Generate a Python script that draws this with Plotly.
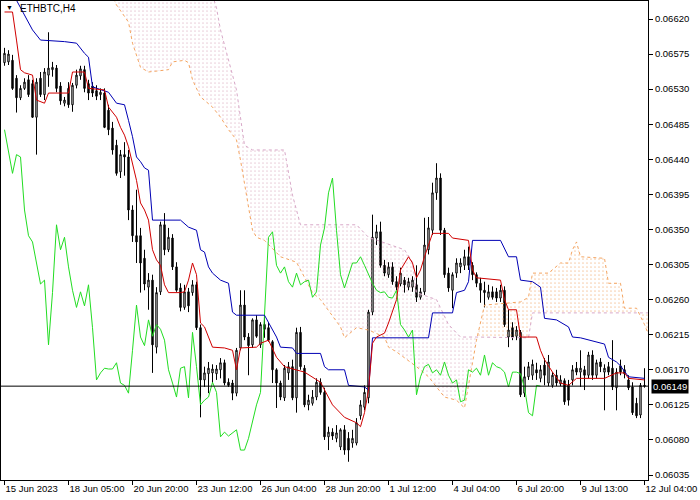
import plotly.graph_objects as go

# ---------------- data (prices in 1e-5 units, i.e. 6564 -> 0.06564) ----------------
open_pts = [6564, 6565, 6567, 6544, 6519, 6531, 6542, 6537, 6494, 6544,
            6523, 6548, 6555, 6557, 6534, 6512, 6531, 6510, 6535, 6547,
            6555, 6537, 6534, 6528, 6523, 6525, 6503, 6480, 6458, 6424,
            6446, 6443, 6375, 6342, 6342, 6313, 6276, 6285, 6199, 6270,
            6356, 6324, 6339, 6302, 6275, 6250, 6270, 6269, 6279, 6224,
            6157, 6165, 6166, 6165, 6170, 6179, 6154, 6153, 6140, 6198,
            6253, 6212, 6202, 6234, 6202, 6228, 6224, 6206, 6170, 6153,
            6134, 6166, 6174, 6134, 6218, 6172, 6125, 6127, 6135, 6154,
            6141, 6084, 6090, 6082, 6071, 6093, 6082, 6076, 6076, 6111,
            6122, 6134, 6244, 6339, 6347, 6304, 6292, 6302, 6283, 6280,
            6285, 6276, 6276, 6279, 6263, 6270, 6324, 6349, 6397, 6416,
            6349, 6294, 6272, 6294, 6302, 6304, 6315, 6304, 6292, 6281,
            6272, 6263, 6270, 6270, 6262, 6272, 6212, 6224, 6213, 6218,
            6140, 6161, 6163, 6170, 6159, 6176, 6153, 6150, 6163, 6152,
            6156, 6150, 6157, 6172, 6167, 6170, 6163, 6189, 6163, 6180,
            6167, 6174, 6172, 6147, 6175, 6170, 6157, 6148, 6127, 6112,
            6150]
high_pts = [6583, 6580, 6574, 6548, 6535, 6544, 6548, 6542, 6544, 6552,
            6557, 6603, 6565, 6561, 6539, 6520, 6539, 6538, 6555, 6560,
            6560, 6542, 6539, 6535, 6531, 6531, 6510, 6488, 6465, 6452,
            6462, 6452, 6381, 6401, 6352, 6324, 6294, 6292, 6276, 6360,
            6371, 6352, 6344, 6308, 6281, 6279, 6275, 6285, 6283, 6228,
            6174, 6180, 6177, 6176, 6185, 6183, 6159, 6157, 6198, 6272,
            6272, 6217, 6236, 6240, 6231, 6240, 6230, 6208, 6172, 6156,
            6176, 6180, 6183, 6224, 6225, 6176, 6138, 6144, 6159, 6159,
            6147, 6097, 6095, 6099, 6095, 6099, 6090, 6093, 6108, 6131,
            6150, 6247, 6369, 6356, 6360, 6311, 6308, 6308, 6290, 6301,
            6289, 6288, 6290, 6304, 6275, 6365, 6366, 6410, 6435, 6422,
            6352, 6301, 6295, 6313, 6313, 6324, 6328, 6308, 6295, 6288,
            6283, 6279, 6277, 6275, 6279, 6277, 6247, 6231, 6226, 6221,
            6174, 6180, 6183, 6179, 6176, 6185, 6189, 6167, 6170, 6163,
            6159, 6157, 6176, 6180, 6195, 6175, 6193, 6195, 6183, 6185,
            6177, 6180, 6208, 6172, 6183, 6176, 6163, 6154, 6134, 6153,
            6172]
low_pts = [6560, 6561, 6529, 6500, 6516, 6529, 6520, 6493, 6446, 6520,
           6516, 6533, 6546, 6526, 6510, 6508, 6506, 6501, 6531, 6542,
           6526, 6516, 6520, 6516, 6516, 6480, 6471, 6446, 6419, 6416,
           6419, 6362, 6334, 6307, 6269, 6272, 6247, 6166, 6191, 6266,
           6317, 6321, 6298, 6270, 6245, 6247, 6244, 6265, 6221, 6109,
           6148, 6140, 6153, 6157, 6159, 6150, 6148, 6131, 6136, 6195,
           6208, 6163, 6198, 6211, 6198, 6211, 6206, 6153, 6121, 6131,
           6130, 6157, 6131, 6115, 6170, 6122, 6118, 6124, 6131, 6138,
           6080, 6067, 6080, 6077, 6067, 6061, 6052, 6070, 6073, 6106,
           6118, 6127, 6240, 6330, 6301, 6290, 6288, 6279, 6272, 6277,
           6269, 6272, 6270, 6257, 6260, 6266, 6318, 6343, 6388, 6343,
           6288, 6270, 6249, 6288, 6294, 6298, 6298, 6285, 6276, 6256,
           6250, 6260, 6260, 6257, 6257, 6225, 6199, 6208, 6208, 6135,
           6135, 6157, 6157, 6157, 6154, 6150, 6149, 6147, 6149, 6149,
           6125, 6124, 6150, 6163, 6148, 6144, 6159, 6157, 6159, 6167,
           6118, 6163, 6144, 6118, 6163, 6159, 6144, 6112, 6108, 6108,
           6147]
close_pts = [6576, 6575, 6531, 6519, 6531, 6539, 6523, 6494, 6539, 6523,
             6552, 6557, 6558, 6531, 6515, 6516, 6510, 6535, 6548, 6556,
             6531, 6525, 6525, 6521, 6526, 6481, 6478, 6452, 6422, 6446,
             6443, 6375, 6342, 6334, 6307, 6280, 6285, 6202, 6269, 6356,
             6324, 6340, 6302, 6272, 6250, 6270, 6252, 6279, 6224, 6157,
             6166, 6172, 6171, 6171, 6179, 6153, 6150, 6140, 6195, 6253,
             6212, 6201, 6234, 6213, 6228, 6222, 6208, 6170, 6153, 6135,
             6172, 6174, 6134, 6218, 6174, 6125, 6131, 6135, 6154, 6141,
             6084, 6090, 6085, 6089, 6093, 6067, 6067, 6082, 6102, 6125,
             6141, 6244, 6340, 6347, 6304, 6294, 6302, 6283, 6276, 6294,
             6279, 6283, 6285, 6263, 6270, 6330, 6352, 6397, 6416, 6349,
             6292, 6275, 6292, 6307, 6307, 6315, 6304, 6292, 6281, 6272,
             6269, 6270, 6263, 6262, 6272, 6228, 6221, 6212, 6221, 6138,
             6161, 6174, 6177, 6166, 6170, 6163, 6180, 6163, 6153, 6157,
             6129, 6131, 6170, 6167, 6172, 6163, 6189, 6163, 6179, 6174,
             6172, 6167, 6148, 6167, 6167, 6165, 6147, 6115, 6111, 6150,
             6149]

# Ichimoku lines: (bar, price points)
tenkan = [(0, 6629), (2, 6629), (3, 6593), (4, 6555), (5, 6551), (7, 6548), (8, 6516),
          (10, 6512), (11, 6525), (16, 6525), (17, 6552), (20, 6552), (21, 6531), (25, 6529),
          (26, 6507), (28, 6494), (29, 6481), (30, 6471), (31, 6456), (32, 6435), (33, 6413),
          (34, 6384), (35, 6375), (36, 6362), (37, 6324), (38, 6311), (39, 6304), (40, 6279),
          (41, 6269), (44, 6269), (45, 6270), (46, 6285), (47, 6307), (48, 6292), (49, 6230),
          (50, 6225), (52, 6199), (55, 6198), (57, 6195), (58, 6170), (59, 6198), (63, 6199),
          (64, 6204), (66, 6208), (68, 6186), (70, 6174), (75, 6167), (79, 6154), (82, 6125),
          (85, 6109), (88, 6102), (89, 6097), (90, 6115), (91, 6144), (92, 6204), (93, 6212),
          (95, 6217), (96, 6230), (98, 6260), (99, 6298), (101, 6315), (102, 6307), (103, 6288),
          (104, 6298), (105, 6315), (107, 6345), (111, 6345), (112, 6339), (116, 6336),
          (117, 6298), (118, 6288), (124, 6285), (125, 6260), (126, 6247), (128, 6247),
          (129, 6212), (133, 6212), (134, 6195), (135, 6183), (137, 6167), (139, 6153),
          (141, 6150), (143, 6159), (150, 6159), (151, 6161), (153, 6166), (155, 6166),
          (156, 6159), (160, 6157)]
kijun = [(2, 6660), (3, 6644), (7, 6606), (9, 6593), (15, 6591), (18, 6589), (20, 6576),
         (21, 6571), (22, 6533), (26, 6526), (28, 6512), (30, 6510), (31, 6490), (32, 6469),
         (33, 6443), (34, 6437), (35, 6429), (36, 6426), (37, 6362), (44, 6362), (46, 6353),
         (48, 6349), (49, 6324), (50, 6321), (51, 6302), (52, 6294), (54, 6285), (56, 6281),
         (57, 6244), (58, 6240), (65, 6240), (66, 6230), (68, 6212), (69, 6199), (72, 6198),
         (73, 6191), (79, 6191), (80, 6174), (81, 6170), (85, 6170), (86, 6150), (90, 6148),
         (91, 6144), (92, 6211), (106, 6211), (107, 6243), (112, 6243), (113, 6269),
         (115, 6272), (116, 6283), (117, 6336), (124, 6336), (126, 6315), (128, 6315),
         (129, 6285), (132, 6283), (134, 6276), (135, 6236), (138, 6234), (141, 6225),
         (142, 6212), (144, 6211), (150, 6203), (151, 6186), (153, 6180), (154, 6175),
         (156, 6161), (160, 6159)]
span_a = [(26, 6660), (28, 6638), (31, 6616), (32, 6589), (34, 6558), (36, 6552), (41, 6555),
          (42, 6565), (45, 6567), (46, 6564), (47, 6542), (49, 6520), (52, 6507), (54, 6494),
          (56, 6478), (58, 6465), (59, 6439), (60, 6407), (62, 6349), (63, 6340), (65, 6336),
          (69, 6315), (73, 6308), (77, 6269), (79, 6260), (84, 6225), (85, 6211), (88, 6224),
          (91, 6221), (95, 6212), (96, 6199), (98, 6193), (103, 6174), (106, 6161), (110, 6135),
          (113, 6131), (115, 6121), (116, 6150), (117, 6180), (118, 6208), (120, 6253),
          (129, 6257), (131, 6263), (132, 6294), (136, 6294), (139, 6307), (141, 6307),
          (142, 6324), (143, 6334), (144, 6315), (150, 6313), (151, 6281), (154, 6281),
          (155, 6249), (158, 6249), (160, 6228), (161, 6215)]
span_b = [(26, 6700), (51, 6700), (52, 6651), (53, 6634), (54, 6606), (56, 6567), (58, 6529),
          (60, 6458), (62, 6452), (70, 6452), (72, 6394), (74, 6356), (88, 6356), (91, 6340),
          (97, 6330), (100, 6324), (102, 6308), (103, 6269), (108, 6260), (111, 6228),
          (114, 6212), (118, 6212), (131, 6211), (132, 6243), (161, 6243)]

x_tick_bars = [0, 16, 32, 48, 64, 80, 96, 112, 128, 144, 160]
x_tick_labels = ["15 Jun 2023", "18 Jun 05:00", "20 Jun 20:00", "23 Jun 12:00",
                 "26 Jun 04:00", "28 Jun 20:00", "1 Jul 12:00", "4 Jul 04:00",
                 "6 Jul 20:00", "9 Jul 13:00", "12 Jul 04:00"]
y_tick_values = [0.06620, 0.06575, 0.06530, 0.06485, 0.06440, 0.06395, 0.06350,
                 0.06305, 0.06260, 0.06215, 0.06170, 0.06125, 0.06080, 0.06035]
last_price = 0.06149
symbol_title = "ETHBTC,H4"
CHIKOU_SHIFT = 26

# ---------------- build ----------------
S = 1e-5
bars = list(range(len(close_pts)))
o = [v * S for v in open_pts]
h = [v * S for v in high_pts]
l = [v * S for v in low_pts]
c = [v * S for v in close_pts]


def xs(pairs):
    return [b for b, _ in pairs]


def ys(pairs):
    return [v * S for _, v in pairs]


FONT = "Liberation Sans, Arial, sans-serif"
FS = 9.5
fig = go.Figure()

# cloud (thistle where span B above, sandy brown where span A above)
cross = 118
pink_poly = [p for p in span_b if p[0] <= cross] + [p for p in reversed(span_a) if p[0] <= cross]
orange_poly = [p for p in span_a if p[0] >= cross] + [p for p in reversed(span_b) if p[0] >= cross]
fig.add_trace(go.Scatter(x=xs(pink_poly), y=ys(pink_poly), mode="none", fill="toself",
                         fillcolor="rgba(0,0,0,0)",
                         fillpattern=dict(shape=".", fgcolor="#d4a0b6", bgcolor="rgba(0,0,0,0)",
                                          size=4, solidity=0.14),
                         hoverinfo="skip", showlegend=False))
fig.add_trace(go.Scatter(x=xs(orange_poly), y=ys(orange_poly), mode="none", fill="toself",
                         fillcolor="rgba(0,0,0,0)",
                         fillpattern=dict(shape=".", fgcolor="#ee9e5c", bgcolor="rgba(0,0,0,0)",
                                          size=4, solidity=0.14),
                         hoverinfo="skip", showlegend=False))
fig.add_trace(go.Scatter(x=xs(span_a), y=ys(span_a), mode="lines",
                         line=dict(color="#f4a460", width=1, dash="dot"),
                         hoverinfo="skip", showlegend=False))
fig.add_trace(go.Scatter(x=xs(span_b), y=ys(span_b), mode="lines",
                         line=dict(color="#d8a8c8", width=1, dash="dot"),
                         hoverinfo="skip", showlegend=False))

# candles
fig.add_trace(go.Candlestick(x=bars, open=o, high=h, low=l, close=c,
                             increasing=dict(line=dict(color="black", width=1), fillcolor="white"),
                             decreasing=dict(line=dict(color="black", width=1), fillcolor="black"),
                             whiskerwidth=0, hoverinfo="skip", showlegend=False))

# lines
fig.add_trace(go.Scatter(x=bars[:len(bars) - CHIKOU_SHIFT], y=c[CHIKOU_SHIFT:], mode="lines",
                         line=dict(color="#22dd22", width=1), hoverinfo="skip", showlegend=False))
fig.add_trace(go.Scatter(x=xs(kijun), y=ys(kijun), mode="lines",
                         line=dict(color="#0000b4", width=1), hoverinfo="skip", showlegend=False))
fig.add_trace(go.Scatter(x=xs(tenkan), y=ys(tenkan), mode="lines",
                         line=dict(color="#d00000", width=1), hoverinfo="skip", showlegend=False))

# last price line and label
fig.add_shape(type="line", xref="paper", x0=0, x1=1, yref="y", y0=last_price, y1=last_price,
              line=dict(color="black", width=1))
fig.add_annotation(xref="paper", x=1, xanchor="left", xshift=3, yref="y", y=last_price,
                   text=f"{last_price:.5f}", showarrow=False, bgcolor="black",
                   font=dict(color="white", size=FS, family=FONT), borderpad=1)

# symbol title
fig.add_annotation(xref="paper", x=0.004, xanchor="left", yref="paper", y=0.997, yanchor="top",
                   text="▼", showarrow=False, font=dict(color="black", size=7, family=FONT))
fig.add_annotation(xref="paper", x=0.027, xanchor="left", yref="paper", y=1.0, yanchor="top",
                   text=symbol_title, showarrow=False, font=dict(color="black", size=10, family=FONT))

fig.update_layout(
    width=700, height=500,
    margin=dict(l=1, r=52, t=1, b=20, pad=0),
    paper_bgcolor="white", plot_bgcolor="white",
    showlegend=False, boxgap=0.5,
    font=dict(family=FONT, size=FS, color="black"),
    xaxis=dict(range=[-0.875, 160.875], showgrid=False, zeroline=False, showline=True, mirror=True,
               linecolor="black", linewidth=1, ticks="outside", ticklen=4, tickcolor="black",
               tickvals=x_tick_bars, ticktext=x_tick_labels, ticklabelposition="outside right",
               tickangle=0, tickfont=dict(size=FS, family=FONT),
               rangeslider=dict(visible=False), fixedrange=True),
    yaxis=dict(range=[0.060286, 0.066431], side="right", showgrid=False, zeroline=False,
               showline=True, mirror=True, linecolor="black", linewidth=1, ticks="outside",
               ticklen=4, tickcolor="black", tickvals=y_tick_values,
               ticktext=[f"{v:.5f}" for v in y_tick_values], tickfont=dict(size=FS, family=FONT),
               ticklabelstandoff=0, fixedrange=True),
)

fig.write_html("out.html", config={"displayModeBar": False},
               post_script="document.body.style.margin='0';document.body.style.overflow='hidden';")
